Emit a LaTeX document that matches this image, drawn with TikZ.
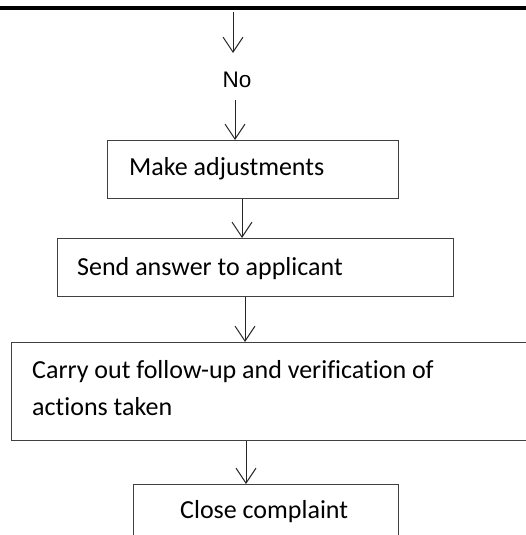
\documentclass[tikz,border=0pt]{standalone}
\usepackage{fontspec}
\setmainfont{Carlito}[Ligatures=NoCommon]
\newfontfamily\arialish{Liberation Sans}
\usetikzlibrary{arrows.meta}
\definecolor{edge}{HTML}{404040}
\tikzset{
  stepbox/.style={draw=edge, line width=1.4pt, minimum width=#1, inner sep=0pt, anchor=north west},
  flow/.style={draw=black!85, line width=1pt, -{Straight Barb[length=15pt, width=20pt, line width=1pt]}},
  boxtext/.style={anchor=base west, inner sep=0pt, font=\fontsize{26}{37}\selectfont, align=left},
}
\begin{document}
\begin{tikzpicture}[x=1pt, y=-1pt]
  \useasboundingbox (0,0) rectangle (526,535);
  \clip (0,0) rectangle (526,535);

  % heavy rule across the top
  \fill[black] (0,6) rectangle (526,10);

  % boxes
  \node[stepbox=291pt, minimum height=58pt] (adjust) at (107,140) {};
  \node[stepbox=396pt, minimum height=58pt] (answer) at (57,238) {};
  \node[stepbox=540pt, minimum height=98pt] (follow) at (11,342) {};
  \node[stepbox=265pt, minimum height=80pt] (close) at (133,484) {};

  % texts
  \node[anchor=base, inner sep=0pt, font=\arialish\fontsize{22.5}{27}\selectfont] (no) at (237,88) {No};
  \node[boxtext] (tadjust) at (129,175) {Make adjustments};
  \node[boxtext] (tanswer) at (77,275) {Send answer to applicant};
  \node[boxtext] (tfollow) at (32,378) {Carry out follow-up and verification of};
  \node[boxtext] (tfollow2) at (32,415) {actions taken};
  \node[boxtext] (tclose) at (180,518) {Close complaint};

  % connectors
  \coordinate (in) at (233,12);
  \coordinate (inend) at (233,53);
  \coordinate (nobelow) at (235,100);
  \draw[flow] (in) -- (inend);
  \draw[flow] (nobelow) -- (nobelow |- adjust.north);
  \draw[flow] (242,0 |- adjust.south) -- (242,0 |- answer.north);
  \draw[flow] (245,0 |- answer.south) -- (245,0 |- follow.north);
  \draw[flow] (246,0 |- follow.south) -- (246,0 |- close.north);
\end{tikzpicture}
\end{document}
